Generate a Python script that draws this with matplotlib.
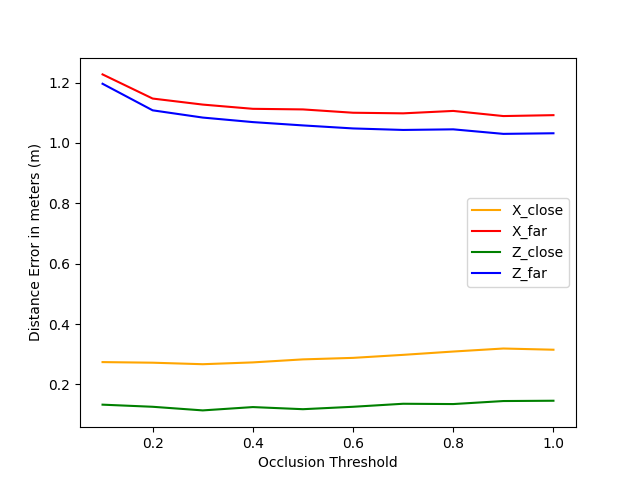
import matplotlib
matplotlib.use("Agg")
import matplotlib.pyplot as plt

thresholds = [0.1, 0.2, 0.3, 0.4, 0.5, 0.6, 0.7, 0.8, 0.9, 1.0]
x_close = [0.274, 0.272, 0.267, 0.273, 0.283, 0.288, 0.298, 0.309, 0.319, 0.315]
x_far = [1.227, 1.147, 1.127, 1.113, 1.111, 1.100, 1.098, 1.106, 1.089, 1.092]
z_close = [0.133, 0.126, 0.114, 0.125, 0.118, 0.126, 0.136, 0.135, 0.145, 0.146]
z_far = [1.196, 1.108, 1.084, 1.069, 1.058, 1.048, 1.043, 1.045, 1.030, 1.032]

fig, ax = plt.subplots(figsize=(6.4, 4.8), dpi=100)
ax.plot(thresholds, x_close, color="orange", label="X_close")
ax.plot(thresholds, x_far, color="red", label="X_far")
ax.plot(thresholds, z_close, color="green", label="Z_close")
ax.plot(thresholds, z_far, color="blue", label="Z_far")
ax.set_xlabel("Occlusion Threshold")
ax.set_ylabel("Distance Error in meters (m)")
ax.legend(loc="center right")
fig.savefig("out.png")
